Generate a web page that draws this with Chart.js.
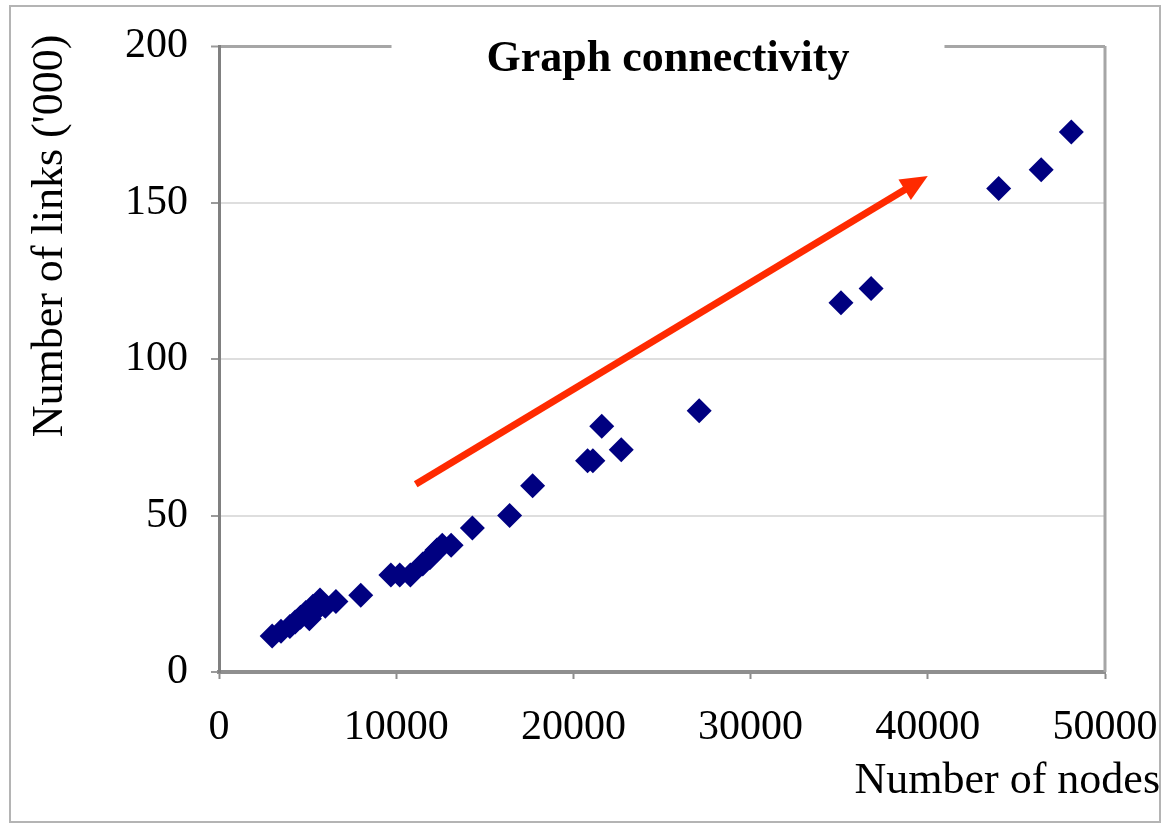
<!DOCTYPE html>
<html>
<head>
<meta charset="utf-8">
<title>Graph connectivity</title>
<script src="https://cdn.jsdelivr.net/npm/chart.js@4.4.1/dist/chart.umd.min.js"></script>
<style>
  html, body { margin: 0; padding: 0; background: #fff; }
  #wrap { position: relative; width: 1162px; height: 825px; }
</style>
</head>
<body>
<div id="wrap"><canvas id="graphChart" width="1162" height="825"></canvas></div>
<script>
// --- DATA ---
const nodes = [3000, 3500, 4000, 4300, 4600, 4900, 5100, 5300, 5500, 5700, 6000, 6600, 8000,
               9700, 10200, 10800, 11500, 11900, 12300, 12600, 13100, 14300, 16400, 17700,
               20800, 21100, 21600, 22700, 27100, 35100, 36800, 44000, 46400, 48100];
const links = [11.5, 13, 14.5, 16, 17.5, 19, 17, 21, 20, 23, 21, 22.5, 24.5,
               31, 31, 31, 34.5, 36.5, 39, 40.5, 40.5, 46, 50, 59.5,
               67.5, 67.5, 78.5, 71, 83.5, 118, 122.5, 154.5, 160.5, 172.5];
const xTicks = [0, 10000, 20000, 30000, 40000, 50000];
const yTicks = [0, 50, 100, 150, 200];
// red trend arrow, in data units [nodes, links]
const arrowFrom = [11100, 60];
const arrowTo = [40000, 158.5];

const chartTitle = "Graph connectivity";
const xTitle = "Number of nodes";
const yTitle = "Number of links ('000)";

const SERIF = "'Liberation Serif', 'Times New Roman', serif";

// --- PLUGINS ---
const framePlugin = {
    id: 'frame',
    beforeDraw(chart) {
        const ctx = chart.ctx;
        ctx.save();
        ctx.strokeStyle = '#b4b4b4';
        ctx.lineWidth = 2;
        ctx.strokeRect(10, 6, 1150, 816);
        ctx.restore();
    },
    afterDraw(chart) {
        const { ctx, chartArea } = chart;
        ctx.save();
        // right edge of the plot
        ctx.strokeStyle = '#a6a6a6';
        ctx.lineWidth = 3;
        ctx.beginPath();
        ctx.moveTo(chartArea.right, chartArea.top);
        ctx.lineTo(chartArea.right, chartArea.bottom);
        ctx.stroke();

        // title over the top border
        ctx.font = "bold 44px " + SERIF;
        ctx.textAlign = 'center';
        ctx.textBaseline = 'middle';
        const cx = (chartArea.left + chartArea.right) / 2 + 6;
        const w = ctx.measureText(chartTitle).width;
        ctx.fillStyle = '#fff';
        ctx.fillRect(cx - w / 2 - 95, chartArea.top - 6, w + 190, 14);
        ctx.fillStyle = '#000';
        ctx.fillText(chartTitle, cx, 60);

        // axis titles
        ctx.font = "44px " + SERIF;
        ctx.textAlign = 'right';
        ctx.fillText(xTitle, 1160, 781);

        ctx.translate(50, 236);
        ctx.rotate(-Math.PI / 2);
        ctx.textAlign = 'center';
        ctx.fillText(yTitle, 0, 0);
        ctx.restore();
    }
};

const arrowPlugin = {
    id: 'trendArrow',
    afterDatasetsDraw(chart) {
        const { ctx, scales } = chart;
        const x1 = scales.x.getPixelForValue(arrowFrom[0]);
        const y1 = scales.y.getPixelForValue(arrowFrom[1]);
        const x2 = scales.x.getPixelForValue(arrowTo[0]);
        const y2 = scales.y.getPixelForValue(arrowTo[1]);
        const ang = Math.atan2(y2 - y1, x2 - x1);
        const headLen = 27, headHalf = 12;
        const bx = x2 - Math.cos(ang) * headLen;
        const by = y2 - Math.sin(ang) * headLen;
        ctx.save();
        ctx.strokeStyle = '#ff2a00';
        ctx.fillStyle = '#ff2a00';
        ctx.lineWidth = 7;
        ctx.beginPath();
        ctx.moveTo(x1, y1);
        ctx.lineTo(bx + Math.cos(ang) * 2, by + Math.sin(ang) * 2);
        ctx.stroke();
        ctx.beginPath();
        ctx.moveTo(x2, y2);
        ctx.lineTo(bx - Math.sin(ang) * headHalf, by + Math.cos(ang) * headHalf);
        ctx.lineTo(bx + Math.sin(ang) * headHalf, by - Math.cos(ang) * headHalf);
        ctx.closePath();
        ctx.fill();
        ctx.restore();
    }
};

// --- CHART ---
const ctx = document.getElementById('graphChart').getContext('2d');
new Chart(ctx, {
    type: 'scatter',
    data: {
        datasets: [{
            label: 'Links',
            data: nodes.map((n, i) => ({ x: n, y: links[i] })),
            pointStyle: 'rectRot',
            pointRadius: 12.5,
            backgroundColor: '#000080',
            borderWidth: 0
        }]
    },
    options: {
        responsive: false,
        animation: false,
        events: [],
        layout: { padding: { left: 0, top: 46, right: 57, bottom: 0 } },
        plugins: {
            legend: { display: false },
            tooltip: { enabled: false },
            title: { display: false }
        },
        scales: {
            x: {
                type: 'linear',
                min: 0,
                max: 50000,
                afterBuildTicks: axis => { axis.ticks = xTicks.map(v => ({ value: v })); },
                afterFit: axis => {
                    axis.height = 153;
                    axis.paddingLeft = 0;
                    axis.paddingRight = 0;
                },
                grid: {
                    drawOnChartArea: false,
                    drawTicks: true,
                    tickLength: 7,
                    tickColor: '#8c8c8c',
                    tickWidth: 2
                },
                border: { color: '#8f8f8f', width: 4 },
                ticks: {
                    color: '#000',
                    padding: 24,
                    maxRotation: 0,
                    font: { family: SERIF, size: 42 },
                    callback: v => String(v)
                }
            },
            y: {
                type: 'linear',
                min: 0,
                max: 200,
                afterBuildTicks: axis => { axis.ticks = yTicks.map(v => ({ value: v })); },
                afterFit: axis => {
                    axis.width = 219;
                    axis.paddingTop = 0;
                    axis.paddingBottom = 0;
                },
                grid: {
                    color: c => (c.tick && c.tick.value === 200) ? '#a6a6a6' : '#dedede',
                    lineWidth: c => (c.tick && c.tick.value === 200) ? 3 : 2,
                    tickLength: 8,
                    tickColor: '#9a9a9a',
                    tickWidth: 2
                },
                border: { color: '#808080', width: 3 },
                ticks: {
                    color: '#000',
                    padding: 23,
                    font: { family: SERIF, size: 42 },
                    callback: v => String(v)
                }
            }
        }
    },
    plugins: [framePlugin, arrowPlugin]
});
</script>
</body>
</html>
